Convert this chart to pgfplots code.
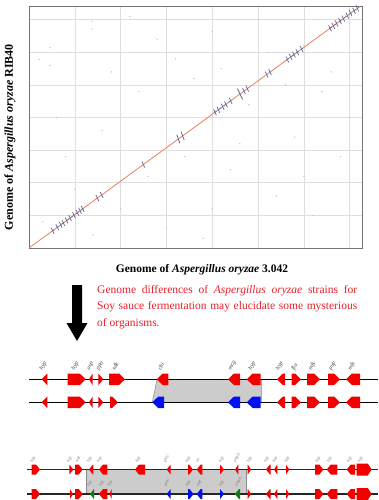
\documentclass[border=0pt]{standalone}
\usepackage{pgfplots}
\pgfplotsset{compat=1.18}
\usepackage{fontspec}
\setmainfont{Liberation Serif}
\definecolor{genered}{HTML}{F20000}
\definecolor{geneblue}{HTML}{0010F0}
\definecolor{genegreen}{HTML}{127A12}
\definecolor{txtred}{HTML}{E8202A}
\definecolor{diagc}{HTML}{E8805A}
\definecolor{tickblue}{HTML}{5A64A0}
\newcommand{\gh}{5.8}
\newcommand{\hw}{6}
% x1, x2, y, dir (1 right / -1 left), colour
\newcommand{\gene}[5]{%
  \pgfmathsetmacro\gYa{#3-\gh}%
  \pgfmathsetmacro\gYb{#3+\gh}%
  \pgfmathsetmacro\gTail{(#4)>0 ? #1 : #2}%
  \pgfmathsetmacro\gTip{(#4)>0 ? #2 : #1}%
  \pgfmathsetmacro\gSh{\gTip-(#4)*min(\hw,#2-#1)}%
  \addplot[fill=#5,draw=none] coordinates {(\gTail,\gYa) (\gSh,\gYa) (\gTip,#3) (\gSh,\gYb) (\gTail,\gYb)} -- cycle;%
}
\begin{document}
\begin{tikzpicture}[x=1pt,y=1pt]
\fill[white] (0,0) rectangle (378,500);
\path[use as bounding box] (0,0) rectangle (378,500);
% ---------------- dot plot ----------------
\begin{axis}[at={(29pt,252pt)}, anchor=south west, width=333pt, height=242pt,
  scale only axis, xmin=0, xmax=36.35, ymin=0, ymax=37.1,
  xtick={5,10,...,35}, ytick={5,10,...,35}, xticklabels={}, yticklabels={},
  major tick length=0pt, grid=major, grid style={draw=black!13, line width=0.6pt},
  axis line style={draw=black!55, line width=0.9pt}]
\addplot[only marks, mark=*, mark size=0.45pt, black!22] coordinates {
(2.3,30.7) (1.1,28.9) (2.3,28.0) (6.9,34.8) (6.9,33.6) (14,32) (20,33.2) (25,35) (30,31) (33,27)
(3,20) (8,18) (12,24) (17,14) (22,12) (27,8) (31,5) (5,9) (10,6) (15,3)
(9,27) (18,26) (24,22) (29,17) (34,14) (4,14) (13,11) (20,6) (26,30) (32,24)
(11,35.5) (16,29) (21,27.5) (28,25) (35,20) (1.5,4) (7,2) (19,1.5) (23,16) (30,11)};
\addplot[diagc, line width=0.8pt] coordinates {(0,0) (36.1,37.0)};
\addplot[tickblue, line width=0.5pt, dashed] coordinates {(2.5,2.56) (6.0,6.15)};
\addplot[tickblue, line width=0.5pt, dashed] coordinates {(20.2,20.7) (22.1,22.65)};
\addplot[tickblue, line width=0.5pt, dashed] coordinates {(28.1,28.8) (29.9,30.65)};
\addplot[tickblue, line width=0.5pt, dashed] coordinates {(32.8,33.62) (36.0,36.9)};
\addplot[only marks, mark=|, mark size=3.3pt, mark options={rotate=25, line width=0.7pt}, tickblue] coordinates {
(2.58,2.64) (3.09,3.17) (3.46,3.55) (3.75,3.84) (4.11,4.21) (4.48,4.59) (4.91,5.03) (5.28,5.41) (5.57,5.71) (5.86,6.01)
(7.46,7.65) (7.93,8.13) (12.48,12.79)
(20.30,20.81) (20.67,21.19) (21.14,21.67) (21.50,22.04) (22.01,22.56)
(23.47,24.06) (23.83,24.43) (25.94,26.59) (26.31,26.97)
(28.20,28.91) (28.56,29.27) (28.93,29.65) (29.29,30.02) (29.76,30.50)
(32.86,33.68) (33.22,34.05) (33.58,34.42) (33.95,34.80) (34.31,35.17) (34.75,35.62) (35.11,35.99) (35.48,36.37) (35.84,36.74)};
\addplot[only marks, mark=|, mark size=4.5pt, mark options={rotate=20, line width=0.8pt}, tickblue] coordinates {
(16.30,16.71) (16.77,17.19)};
\addplot[only marks, mark=|, mark size=6pt, mark options={rotate=25, line width=0.8pt}, tickblue] coordinates {
(23.03,23.61)};
\end{axis}
% ---------------- overlay in pixel coordinates ----------------
\begin{axis}[at={(0pt,0pt)}, anchor=south west, width=378pt, height=500pt,
  scale only axis, xmin=0, xmax=378, ymin=0, ymax=500, y dir=reverse,
  hide axis, clip=false]
% axis titles
\node[rotate=90, font=\fontsize{12}{13}\selectfont\bfseries] at (axis cs:10,137) {Genome of \textit{Aspergillus oryzae} RIB40};
\node[font=\fontsize{11.5}{13}\selectfont\bfseries] at (axis cs:202,270) {Genome of \textit{Aspergillus oryzae} 3.042};
% down arrow
\addplot[fill=black, draw=none] coordinates {(72,285) (82,285) (82,323) (87.5,323) (77,341) (66.5,323) (72,323)} -- cycle;
% red text
\node[anchor=north west, inner sep=0pt, text=txtred, align=justify] at (axis cs:97,285) {%
\parbox{260pt}{\fontsize{11.5}{16.5}\selectfont\noindent Genome differences of \textit{Aspergillus oryzae} strains for\linebreak Soy sauce fermentation may elucidate some mysterious\linebreak of organisms.}};
% ---------- map 1 ----------
\addplot[fill=black!20, draw=black!45, line width=0.5pt] coordinates {(157,379.3) (261.7,379.3) (261.7,402.3) (152.3,402.3)} -- cycle;
\addplot[black, line width=1.2pt] coordinates {(29,379.3) (378,379.3)};
\addplot[black, line width=1.2pt] coordinates {(29,402.3) (378,402.3)};
\gene{41.7}{47.3}{379.3}{-1}{genered}
\gene{67.7}{85.7}{379.3}{1}{genered}
\gene{89}{92.7}{379.3}{-1}{genered}
\gene{98.3}{103.3}{379.3}{1}{genered}
\gene{109}{125}{379.3}{1}{genered}
\gene{156.7}{168.3}{379.3}{-1}{genered}
\gene{228}{240}{379.3}{-1}{genered}
\gene{246.7}{260.7}{379.3}{-1}{genered}
\gene{277}{285}{379.3}{-1}{genered}
\gene{291.7}{301}{379.3}{1}{genered}
\gene{307}{320}{379.3}{1}{genered}
\gene{328}{340}{379.3}{1}{genered}
\gene{346}{360}{379.3}{-1}{genered}
\gene{41.7}{47.3}{402.3}{-1}{genered}
\gene{67.7}{85.7}{402.3}{1}{genered}
\gene{89}{92.7}{402.3}{-1}{genered}
\gene{98.3}{103.3}{402.3}{1}{genered}
\gene{110}{118}{402.3}{1}{genered}
\gene{152.3}{164}{402.3}{-1}{geneblue}
\gene{228}{240}{402.3}{-1}{geneblue}
\gene{246.7}{260.7}{402.3}{-1}{geneblue}
\gene{277}{285}{402.3}{-1}{genered}
\gene{291.7}{301}{402.3}{1}{genered}
\gene{307}{320}{402.3}{1}{genered}
\gene{328}{340}{402.3}{1}{genered}
\gene{346}{360}{402.3}{-1}{genered}
\begin{scope}[every node/.style={rotate=60, anchor=west, inner sep=0pt, text=black!75, font=\fontsize{6}{7}\selectfont\itshape}]
\node at (axis cs:41,370) {hyp};
\node at (axis cs:73,370) {hyp};
\node at (axis cs:88.5,370) {asp};
\node at (axis cs:98,370) {ppo};
\node at (axis cs:113,370) {sdk};
\node at (axis cs:159,370) {chi};
\node at (axis cs:230,370) {mcg};
\node at (axis cs:250,370) {hyp};
\node at (axis cs:277.5,370) {hyp};
\node at (axis cs:293,370) {fla};
\node at (axis cs:310,370) {mfs};
\node at (axis cs:330.5,370) {pup};
\node at (axis cs:349.5,370) {mfs};
\end{scope}
% ---------- map 2 ----------
\renewcommand{\gh}{5}
\renewcommand{\hw}{4}
\addplot[fill=black!20, draw=black!45, line width=0.5pt] coordinates {(86.7,469.5) (246,469.5) (246,494) (86.7,494)} -- cycle;
\addplot[black!85, line width=1.1pt] coordinates {(27,469.5) (378,469.5)};
\addplot[black!85, line width=1.1pt] coordinates {(27,494) (378,494)};
\gene{31.7}{40}{469.5}{1}{genered}
\gene{69.3}{73.3}{469.5}{1}{genered}
\gene{75}{82.7}{469.5}{1}{genered}
\gene{89}{93.3}{469.5}{-1}{genered}
\gene{99}{107.3}{469.5}{-1}{genered}
\gene{135}{145}{469.5}{-1}{genered}
\gene{166.7}{170.7}{469.5}{-1}{genered}
\gene{188}{193}{469.5}{1}{genered}
\gene{196.7}{202.3}{469.5}{-1}{genered}
\gene{220}{224}{469.5}{1}{genered}
\gene{235}{238.3}{469.5}{-1}{genered}
\gene{247.7}{251}{469.5}{1}{genered}
\gene{266}{270.7}{469.5}{-1}{genered}
\gene{274}{277.3}{469.5}{-1}{genered}
\gene{286}{289.3}{469.5}{1}{genered}
\gene{315}{323.3}{469.5}{1}{genered}
\gene{326.7}{337.3}{469.5}{-1}{genered}
\gene{346.7}{355}{469.5}{-1}{genered}
\gene{31.7}{40}{494}{1}{genered}
\gene{70}{73}{494}{1}{genered}
\gene{75}{82.7}{494}{1}{genered}
\gene{90}{94}{494}{-1}{genegreen}
\gene{99}{107.3}{494}{-1}{genered}
\gene{109.3}{111.7}{494}{-1}{genered}
\gene{166.7}{170.7}{494}{-1}{geneblue}
\gene{188}{193.5}{494}{1}{geneblue}
\gene{196.7}{202.3}{494}{-1}{geneblue}
\gene{220}{224}{494}{1}{geneblue}
\gene{235}{240}{494}{-1}{genegreen}
\gene{247.7}{251}{494}{1}{genered}
\gene{266}{270.7}{494}{-1}{genered}
\gene{274}{277.3}{494}{-1}{genered}
\gene{286}{289.3}{494}{1}{genered}
\gene{315}{323.3}{494}{1}{genered}
\gene{326.7}{337.3}{494}{-1}{genered}
\gene{346.7}{355}{494}{-1}{genered}
\renewcommand{\gh}{6}
\gene{356.7}{371.7}{469.5}{1}{genered}
\gene{356.7}{371.7}{494}{1}{genered}
\begin{scope}[every node/.style={rotate=60, anchor=west, inner sep=0pt, text=black!55, font=\fontsize{4}{5}\selectfont\itshape}]
\node at (axis cs:31.5,462) {hyp};
\node at (axis cs:68,462) {hyp};
\node at (axis cs:76,462) {aod};
\node at (axis cs:88,462) {hyp};
\node at (axis cs:98,462) {hyp};
\node at (axis cs:136.5,462) {hyp};
\node at (axis cs:164.5,462) {glcU};
\node at (axis cs:186.5,462) {hyp};
\node at (axis cs:196.5,462) {lcr};
\node at (axis cs:220,462) {hyp};
\node at (axis cs:234.5,462) {pmpA};
\node at (axis cs:248,462) {hyp};
\node at (axis cs:265,462) {hyp};
\node at (axis cs:273.5,462) {hyp};
\node at (axis cs:285.5,462) {hyp};
\node at (axis cs:316.5,462) {hyp};
\node at (axis cs:328,462) {hyp};
\node at (axis cs:348,462) {hyp};
\node at (axis cs:359,462) {hyp};
\node at (axis cs:88,486) {hyp};
\node at (axis cs:100,486) {hyp};
\node at (axis cs:108.5,486) {hyp};
\node at (axis cs:165,486) {glcU};
\node at (axis cs:186.5,486) {hyp};
\node at (axis cs:197,486) {aod};
\node at (axis cs:220,486) {hyp};
\node at (axis cs:236,486) {pmpA};
\end{scope}
\end{axis}
\end{tikzpicture}
\end{document}
